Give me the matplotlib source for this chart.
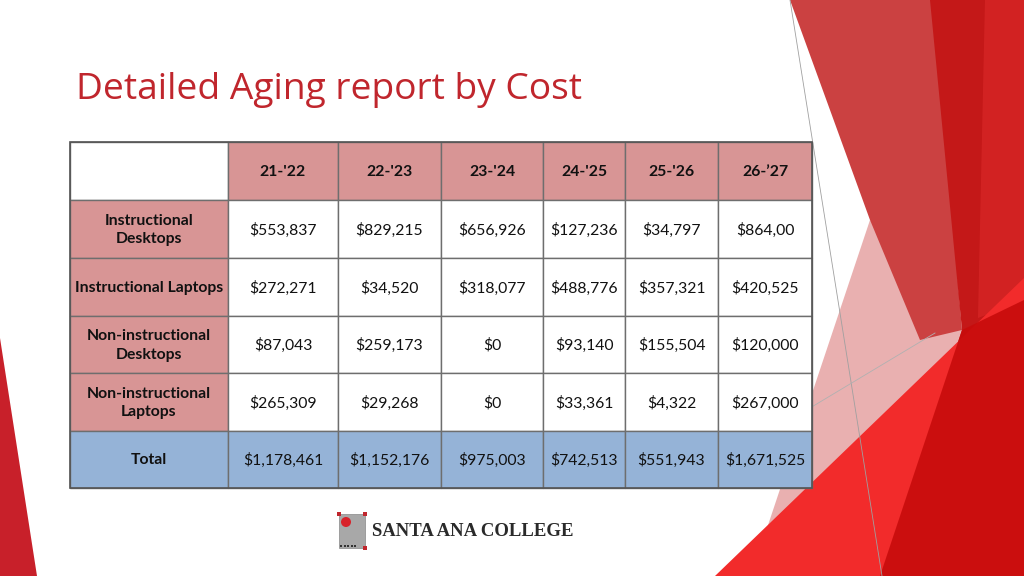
import matplotlib
matplotlib.use("Agg")
import matplotlib.pyplot as plt
from matplotlib.patches import Polygon, Rectangle, Circle

# --- data ---
years = ["21-'22", "22-'23", "23-'24", "24-'25", "25-'26", "26-\u201927"]
row_labels = ["Instructional\nDesktops", "Instructional Laptops",
              "Non-instructional\nDesktops", "Non-instructional\nLaptops", "Total"]
inst_desktops = ["$553,837", "$829,215", "$656,926", "$127,236", "$34,797", "$864,00"]
inst_laptops = ["$272,271", "$34,520", "$318,077", "$488,776", "$357,321", "$420,525"]
noninst_desktops = ["$87,043", "$259,173", "$0", "$93,140", "$155,504", "$120,000"]
noninst_laptops = ["$265,309", "$29,268", "$0", "$33,361", "$4,322", "$267,000"]
totals = ["$1,178,461", "$1,152,176", "$975,003", "$742,513", "$551,943", "$1,671,525"]
rows = [inst_desktops, inst_laptops, noninst_desktops, noninst_laptops, totals]

# --- layout (pixels) ---
x_edges = [70, 228, 338, 441, 543, 625, 718, 812]
y_edges = [142, 200, 258, 316, 373, 431, 488]
HEAD = "#D89595"
TOTAL = "#95B3D7"
LINE = "#6E6E6E"
TITLE_RED = "#C0262D"

fig = plt.figure(figsize=(10.24, 5.76), dpi=100)
ax = fig.add_axes([0, 0, 1, 1])
ax.set_xlim(0, 1024)
ax.set_ylim(576, 0)
ax.axis("off")

# background decoration (slide theme), drawn back to front
shapes = [
    ([(870, 220), (962, 330), (962, 576), (751, 576)], "#E9B0B0", 1.0),   # pink wedge
    ([(790, 0), (935, 0), (962, 330), (920, 340), (870, 220)], "#CB4141", 1.0),
    ([(930, 0), (1024, 0), (1024, 576), (880, 576), (962, 330)], "#C41818", 1.0),
    ([(985, 0), (1024, 0), (1024, 300), (978, 318)], "#D42424", 0.9),
    ([(715, 576), (1024, 278), (1024, 576)], "#F22B2B", 1.0),
    ([(880, 576), (962, 330), (1024, 300), (1024, 576)], "#C80C0C", 0.92),
    ([(0, 338), (0, 576), (37, 576)], "#C8202A", 1.0),
]
for pts, col, a in shapes:
    ax.add_patch(Polygon(pts, closed=True, facecolor=col, edgecolor="none", alpha=a, zorder=0))
ax.plot([790, 882], [0, 576], color="#A0A0A0", lw=0.6, zorder=1)
ax.plot([810, 935], [408, 333], color="#B0B0B0", lw=0.6, zorder=1)

# title
ax.text(76, 90, "Detailed Aging report by Cost", color=TITLE_RED, fontsize=26.7,
        family="Open Sans", va="center", ha="left")

# table
n_rows = len(y_edges) - 1
n_cols = len(x_edges) - 1
for r in range(n_rows):
    for c in range(n_cols):
        x0, x1 = x_edges[c], x_edges[c + 1]
        y0, y1 = y_edges[r], y_edges[r + 1]
        if r == n_rows - 1:
            fc = TOTAL
        elif r == 0 and c == 0:
            fc = "white"
        elif r == 0 or c == 0:
            fc = HEAD
        else:
            fc = "white"
        ax.add_patch(Rectangle((x0, y0), x1 - x0, y1 - y0, facecolor=fc,
                               edgecolor=LINE, lw=1.0, zorder=2))
        xc, yc = (x0 + x1) / 2, (y0 + y1) / 2
        if r == 0 and c > 0:
            txt, bold = years[c - 1], True
        elif r > 0 and c == 0:
            txt, bold = row_labels[r - 1], True
        elif r > 0:
            txt, bold = rows[r - 1][c - 1], False
        else:
            continue
        ax.text(xc, yc + 1, txt, ha="center", va="center", fontsize=11.3,
                family="Lato", fontweight="bold" if bold else "normal",
                color="#111111", linespacing=1.45, zorder=3)

ax.add_patch(Rectangle((x_edges[0], y_edges[0]), x_edges[-1] - x_edges[0],
                       y_edges[-1] - y_edges[0], facecolor="none",
                       edgecolor="#555555", lw=1.2, zorder=4))

# logo
ax.add_patch(Rectangle((339, 514), 26, 34, facecolor="#A8A8A8", edgecolor="#888888", lw=0.5, zorder=2))
ax.add_patch(Circle((346, 522), 5, facecolor="#D8222A", edgecolor="none", zorder=3))
for px, py in [(339, 514), (365, 514), (365, 548)]:
    ax.add_patch(Rectangle((px - 2, py - 2), 4, 4, facecolor="#C0262D", edgecolor="none", zorder=4))
for i in range(5):
    ax.add_patch(Rectangle((340 + i * 3.5, 545), 2, 2, facecolor="#333333", edgecolor="none", zorder=4))
ax.text(372, 531, "SANTA ANA COLLEGE", ha="left", va="center", fontsize=13.5,
        family="Liberation Serif", fontweight="bold", color="#2A2A2A", zorder=3)

fig.savefig("out.png", dpi=100)
